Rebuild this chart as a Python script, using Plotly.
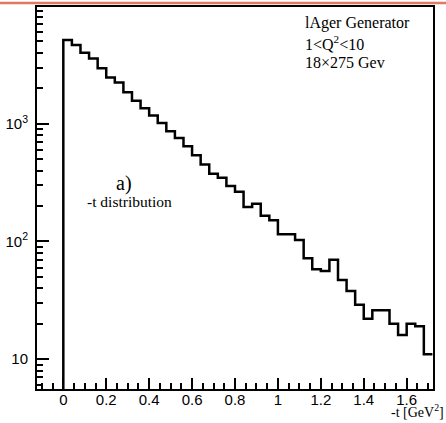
import numpy as np
import plotly.graph_objects as go

# bin edges: 0 .. 1.72 in steps of 0.04 (43 bins)
bin_width = 0.04
n_bins = 43
counts = [5128, 4650, 4004, 3581, 2951, 2462, 2233, 1849, 1564, 1355,
          1175, 1012, 861, 756, 643, 540, 450, 375, 347, 295,
          264, 196, 209, 165, 151, 115, 115, 103, 72, 58,
          56, 70, 47, 38, 29, 22, 26, 26, 20, 16,
          20, 19, 11]
x_ticks = [0, 0.2, 0.4, 0.6, 0.8, 1.0, 1.2, 1.4, 1.6]
x_ticktext = ["0", "0.2", "0.4", "0.6", "0.8", "1", "1.2", "1.4", "1.6"]
y_major = [10, 100, 1000]
y_major_text = ["10", "10<sup>2</sup>", "10<sup>3</sup>"]
y_minor = [m * 10 ** d for d in range(0, 4) for m in range(2, 10)]

edges = [round(i * bin_width, 4) for i in range(n_bins + 1)]
xs = [edges[0]] + edges
ys = [1] + counts + [counts[-1]]

W, H = 446, 423
ml, mr, mt, mb = 37, 13, 5, 34
pw, ph = W - ml - mr, H - mt - mb

xr = [-0.1226, 1.7227]
yr = [0.7465, 3.991]
serif = "Liberation Serif"
sans = "Liberation Sans"

fig = go.Figure()
fig.add_trace(go.Scatter(x=xs, y=ys, mode="lines", line=dict(shape="hv", color="black", width=2.5),
                         showlegend=False, hoverinfo="skip"))
# dummy traces on helper axes (minor ticks / label placement)
fig.add_trace(go.Scatter(x=[None], y=[None], yaxis="y2", showlegend=False))
fig.add_trace(go.Scatter(x=[None], y=[None], yaxis="y3", showlegend=False))
fig.add_trace(go.Scatter(x=[None], y=[None], xaxis="x2", showlegend=False))

fig.update_layout(
    width=W, height=H,
    margin=dict(l=ml, r=mr, t=mt, b=mb, pad=0),
    paper_bgcolor="white", plot_bgcolor="white",
    xaxis=dict(range=xr, tickvals=x_ticks, showticklabels=False,
               ticks="inside", ticklen=11, tickwidth=1.5, tickcolor="black",
               minor=dict(ticks="inside", ticklen=6, tickwidth=1.5, tickcolor="black", dtick=0.05, tick0=0, showgrid=False),
               showline=True, mirror=True, linecolor="black", linewidth=2,
               showgrid=False, zeroline=False),
    xaxis2=dict(range=xr, tickvals=x_ticks, ticktext=x_ticktext, overlaying="x", anchor="free",
                position=3 / ph, side="bottom", ticks="", showline=False, showgrid=False, zeroline=False,
                ticklabelstandoff=3,
                tickfont=dict(family=sans, size=15, color="black")),
    yaxis=dict(type="log", range=yr, tickvals=y_major, showticklabels=False,
               ticks="inside", ticklen=12, tickwidth=1.5, tickcolor="black",
               showline=True, mirror=True, linecolor="black", linewidth=2,
               showgrid=False, zeroline=False),
    yaxis2=dict(type="log", range=yr, overlaying="y", side="left", anchor="x",
                tickvals=y_minor, ticks="inside", ticklen=6, tickwidth=1.5, tickcolor="black",
                showticklabels=False, showgrid=False, zeroline=False, showline=False),
    yaxis3=dict(type="log", range=yr, overlaying="y", side="left", anchor="free", position=0,
                tickvals=y_major, ticktext=y_major_text, ticks="", showgrid=False, zeroline=False, showline=False,
                ticklabelstandoff=9,
                tickfont=dict(family=sans, size=15, color="black")),
)

ann = []
for i, (t, yc) in enumerate([("lAger Generator", 21), ("1&lt;Q<sup>2</sup>&lt;10", 41.5), ("18×275 Gev", 61)]):
    ann.append(dict(text=t, xref="paper", yref="paper", x=(303 - ml) / pw, y=1 - (yc - mt) / ph,
                    xanchor="left", yanchor="middle", showarrow=False,
                    font=dict(family=serif, size=16, color="black")))
ann.append(dict(text="a)", xref="paper", yref="paper", x=(124 - ml) / pw, y=1 - (182 - mt) / ph,
                xanchor="center", yanchor="middle", showarrow=False,
                font=dict(family=serif, size=20, color="black")))
ann.append(dict(text="-t distribution", xref="paper", yref="paper", x=(129 - ml) / pw, y=1 - (200.5 - mt) / ph,
                xanchor="center", yanchor="middle", showarrow=False,
                font=dict(family=serif, size=15.5, color="black")))
ann.append(dict(text="-t [GeV<sup>2</sup>]", xref="paper", yref="paper", x=(446 - ml) / pw, y=1 - (411 - mt) / ph,
                xanchor="right", yanchor="middle", showarrow=False,
                font=dict(family=serif, size=14, color="black")))
fig.update_layout(annotations=ann)

fig.add_shape(type="line", xref="paper", yref="paper", x0=-ml / pw, x1=1 + mr / pw,
              y0=1 + (mt - 1) / ph, y1=1 + (mt - 1) / ph, line=dict(color="#E07A62", width=2.5))

fig.write_html("out.html")
